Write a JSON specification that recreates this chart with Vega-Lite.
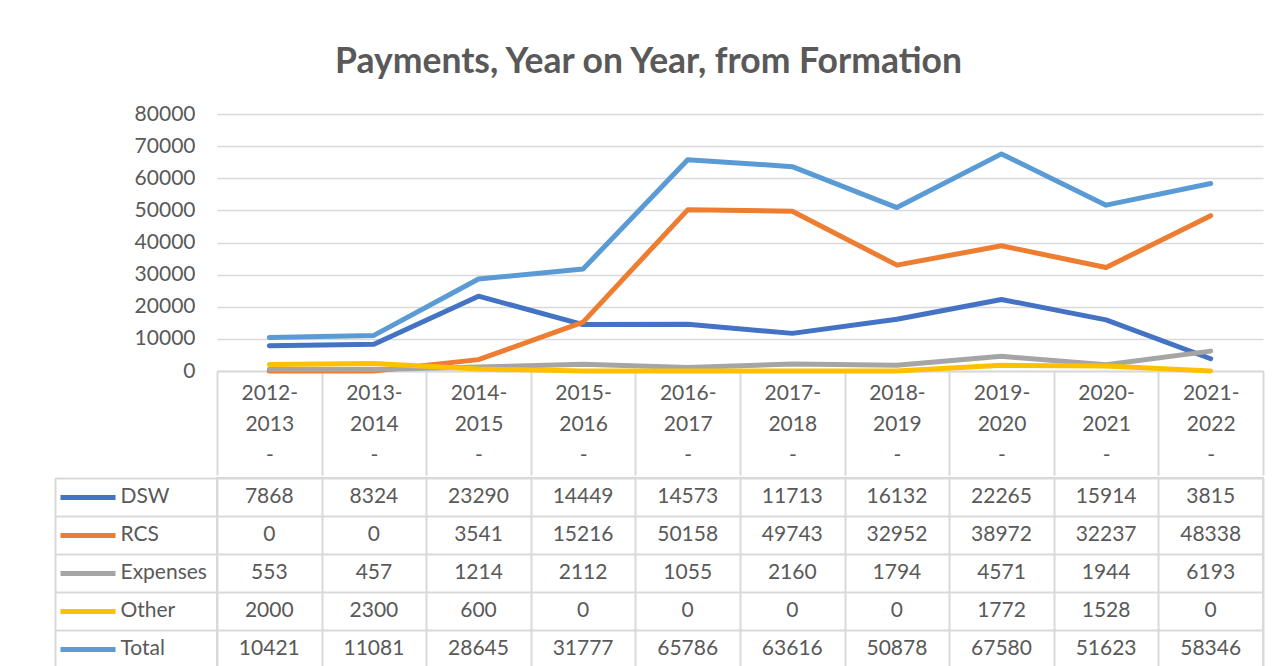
{
  "$schema": "https://vega.github.io/schema/vega-lite/v6.json",
  "padding": {"left": 53, "top": 44, "right": 10, "bottom": 0},
  "background": "white",
  "title": {"text": "Payments, Year on Year, from Formation", "font": "Lato", "fontSize": 35.5, "fontWeight": "bold", "color": "#595959", "anchor": "middle", "dx": -10, "baseline": "alphabetic", "offset": -5},
  "config": {"font": "Lato", "view": {"stroke": null}, "axis": {"labelFont": "Lato", "labelColor": "#595959", "labelFontSize": 21}},
  "datasets": {
    "d": [
      {"year": "2012-2013", "series": "DSW", "value": 7868},
      {"year": "2013-2014", "series": "DSW", "value": 8324},
      {"year": "2014-2015", "series": "DSW", "value": 23290},
      {"year": "2015-2016", "series": "DSW", "value": 14449},
      {"year": "2016-2017", "series": "DSW", "value": 14573},
      {"year": "2017-2018", "series": "DSW", "value": 11713},
      {"year": "2018-2019", "series": "DSW", "value": 16132},
      {"year": "2019-2020", "series": "DSW", "value": 22265},
      {"year": "2020-2021", "series": "DSW", "value": 15914},
      {"year": "2021-2022", "series": "DSW", "value": 3815},
      {"year": "2012-2013", "series": "RCS", "value": 0},
      {"year": "2013-2014", "series": "RCS", "value": 0},
      {"year": "2014-2015", "series": "RCS", "value": 3541},
      {"year": "2015-2016", "series": "RCS", "value": 15216},
      {"year": "2016-2017", "series": "RCS", "value": 50158},
      {"year": "2017-2018", "series": "RCS", "value": 49743},
      {"year": "2018-2019", "series": "RCS", "value": 32952},
      {"year": "2019-2020", "series": "RCS", "value": 38972},
      {"year": "2020-2021", "series": "RCS", "value": 32237},
      {"year": "2021-2022", "series": "RCS", "value": 48338},
      {"year": "2012-2013", "series": "Expenses", "value": 553},
      {"year": "2013-2014", "series": "Expenses", "value": 457},
      {"year": "2014-2015", "series": "Expenses", "value": 1214},
      {"year": "2015-2016", "series": "Expenses", "value": 2112},
      {"year": "2016-2017", "series": "Expenses", "value": 1055},
      {"year": "2017-2018", "series": "Expenses", "value": 2160},
      {"year": "2018-2019", "series": "Expenses", "value": 1794},
      {"year": "2019-2020", "series": "Expenses", "value": 4571},
      {"year": "2020-2021", "series": "Expenses", "value": 1944},
      {"year": "2021-2022", "series": "Expenses", "value": 6193},
      {"year": "2012-2013", "series": "Other", "value": 2000},
      {"year": "2013-2014", "series": "Other", "value": 2300},
      {"year": "2014-2015", "series": "Other", "value": 600},
      {"year": "2015-2016", "series": "Other", "value": 0},
      {"year": "2016-2017", "series": "Other", "value": 0},
      {"year": "2017-2018", "series": "Other", "value": 0},
      {"year": "2018-2019", "series": "Other", "value": 0},
      {"year": "2019-2020", "series": "Other", "value": 1772},
      {"year": "2020-2021", "series": "Other", "value": 1528},
      {"year": "2021-2022", "series": "Other", "value": 0},
      {"year": "2012-2013", "series": "Total", "value": 10421},
      {"year": "2013-2014", "series": "Total", "value": 11081},
      {"year": "2014-2015", "series": "Total", "value": 28645},
      {"year": "2015-2016", "series": "Total", "value": 31777},
      {"year": "2016-2017", "series": "Total", "value": 65786},
      {"year": "2017-2018", "series": "Total", "value": 63616},
      {"year": "2018-2019", "series": "Total", "value": 50878},
      {"year": "2019-2020", "series": "Total", "value": 67580},
      {"year": "2020-2021", "series": "Total", "value": 51623},
      {"year": "2021-2022", "series": "Total", "value": 58346}
    ]
  },
  "spacing": 0,
  "vconcat": [
    {
      "width": 1046,
      "height": 257,
      "data": {"name": "d"},
      "mark": {"type": "line", "strokeWidth": 5, "strokeCap": "round", "strokeJoin": "round", "clip": false},
      "encoding": {
        "x": {
          "field": "year", "type": "nominal", "sort": null,
          "scale": {"type": "band", "paddingInner": 0, "paddingOuter": 0},
          "axis": {
            "title": null, "orient": "bottom", "labelAngle": 0,
            "domainColor": "#d9d9d9", "domainWidth": 2,
            "tickBand": "extent", "tickColor": "#d9d9d9", "tickWidth": 2, "tickSize": 104,
            "labelExpr": "datum.label ? [slice(datum.label, 0, 5), slice(datum.label, 5), '-'] : ''",
            "labelLineHeight": 31, "labelBaseline": "top", "labelPadding": -93,
            "minExtent": 104, "maxExtent": 104
          }
        },
        "y": {
          "field": "value", "type": "quantitative",
          "scale": {"domain": [0, 80000], "nice": false},
          "axis": {
            "title": null, "values": [0, 10000, 20000, 30000, 40000, 50000, 60000, 70000, 80000],
            "format": "d", "domain": false, "ticks": false, "tickSize": 0, "labelPadding": 22,
            "gridColor": "#d9d9d9", "gridWidth": 1.5,
            "minExtent": 162, "maxExtent": 162
          }
        },
        "color": {
          "field": "series", "type": "nominal",
          "scale": {"domain": ["DSW", "RCS", "Expenses", "Other", "Total"], "range": ["#4472C4", "#ED7D31", "#A5A5A5", "#FFC000", "#5B9BD5"]},
          "legend": null
        }
      }
    },
    {
      "width": 1046,
      "height": 190,
      "data": {"name": "d"},
      "view": {"stroke": "#d9d9d9", "strokeWidth": 2},
      "resolve": {"scale": {"y": "independent"}, "axis": {"y": "independent"}},
      "layer": [
        {
          "mark": {"type": "text", "font": "Lato", "fontSize": 21, "color": "#595959"},
          "encoding": {
            "x": {
              "field": "year", "type": "nominal", "sort": null,
              "scale": {"type": "band", "paddingInner": 0, "paddingOuter": 0},
              "axis": {"title": null, "labels": false, "ticks": false, "domain": false, "grid": true, "tickBand": "extent", "gridColor": "#d9d9d9", "gridWidth": 2}
            },
            "y": {
              "field": "series", "type": "nominal",
              "sort": ["DSW", "RCS", "Expenses", "Other", "Total"],
              "scale": {"type": "band", "paddingInner": 0, "paddingOuter": 0},
              "axis": {
                "title": null, "orient": "left", "domain": false, "grid": false,
                "labelAlign": "left", "labelPadding": -60, "labelFontSize": 21,
                "tickSize": 157, "tickWidth": 5, "tickCap": "butt", "tickDash": [0, 102, 55, 300],
                "tickColor": {"expr": "datum.value === 'DSW' ? '#4472C4' : datum.value === 'RCS' ? '#ED7D31' : datum.value === 'Expenses' ? '#A5A5A5' : datum.value === 'Other' ? '#FFC000' : '#5B9BD5'"},
                "minExtent": 162, "maxExtent": 162
              }
            },
            "text": {"field": "value", "type": "quantitative", "format": "d"}
          }
        },
        {
          "mark": {"type": "text", "opacity": 0},
          "encoding": {
            "x": {"field": "year", "type": "nominal", "sort": null},
            "y": {
              "field": "series", "type": "nominal",
              "sort": ["DSW", "RCS", "Expenses", "Other", "Total"],
              "scale": {"type": "band", "paddingInner": 0, "paddingOuter": 0},
              "axis": {"title": null, "orient": "left", "labels": false, "ticks": true, "tickSize": 162, "tickColor": "#d9d9d9", "tickWidth": 2, "domain": false, "grid": true, "tickBand": "extent", "gridColor": "#d9d9d9", "gridWidth": 2, "minExtent": 0, "maxExtent": 0}
            },
            "text": {"field": "value", "type": "quantitative", "format": "d"}
          }
        },
        {
          "mark": {"type": "text", "opacity": 0},
          "encoding": {
            "x": {"field": "year", "type": "nominal", "sort": null},
            "y": {
              "field": "series", "type": "nominal",
              "sort": ["DSW", "RCS", "Expenses", "Other", "Total"],
              "scale": {"type": "band", "paddingInner": 0, "paddingOuter": 0},
              "axis": {"title": null, "orient": "left", "offset": 162, "labels": false, "ticks": false, "grid": false, "domain": true, "domainColor": "#d9d9d9", "domainWidth": 2, "minExtent": 0, "maxExtent": 0}
            },
            "text": {"field": "value", "type": "quantitative", "format": "d"}
          }
        }
      ]
    }
  ]
}
